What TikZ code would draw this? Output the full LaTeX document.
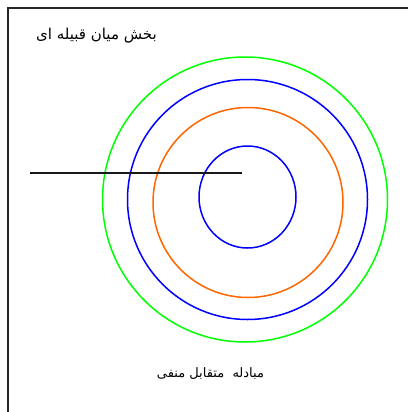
\documentclass[tikz,border=0pt]{standalone}
\usepackage{fontspec}
\newfontfamily\arabicfont[Script=Arabic]{DejaVu Sans}
\TeXXeTstate=1
\usepackage{tikz}
\definecolor{ringgreen}{RGB}{0,255,0}
\definecolor{ringblue}{RGB}{0,0,255}
\definecolor{ringorange}{RGB}{255,102,0}
\tikzset{
  ring/.style={line width=1.5pt},
  frameline/.style={line width=1.5pt, draw=black!85},
  axisline/.style={line width=1.3pt, draw=black!90},
  fatext/.style={font=\arabicfont\fontsize{13.5}{16}\selectfont, inner sep=0pt}
}
\begin{document}
\begin{tikzpicture}[x=1pt, y=-1pt]
  \useasboundingbox (0,0) rectangle (408,412);

  % ==== FRAME ====
  \coordinate (fTL) at (8,8);
  \draw[frameline] (8,412) -- (fTL) -- (408,8);

  % ==== RINGS ====
  \draw[ring, ringgreen]  (245,199.5) circle (142.5);
  \draw[ring, ringblue]   (247.5,199.5) circle (120);
  \draw[ring, ringorange] (248,202.5) circle (95);
  \draw[ring, ringblue]   (247.5,197) ellipse (48.5 and 51);

  % ==== LINE ====
  \coordinate (lineL) at (30,173);
  \coordinate (lineR) at (242,173);
  \draw[axisline] (lineL) -- (lineR);

  % ==== LABELS ====
  \node[fatext, font=\arabicfont\fontsize{15}{18}\selectfont, anchor=east] (topLabel) at (157,36) {\beginR بخش میان قبیله ای\endR};
  \node[fatext, font=\arabicfont\fontsize{13}{16}\selectfont] (bottomLabel) at (210.5,374) {\beginR مبادله\ \ متقابل منفی\endR};
\end{tikzpicture}
\end{document}
